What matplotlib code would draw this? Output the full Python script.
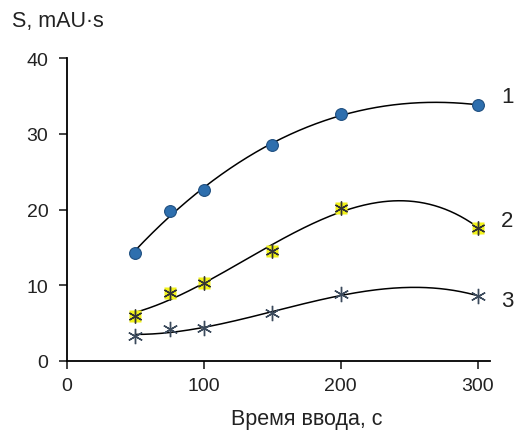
import numpy as np
import matplotlib
matplotlib.use("Agg")
import matplotlib.pyplot as plt

plt.rcParams['font.family'] = ['Liberation Sans', 'DejaVu Sans']

# injection time, s
t = [50, 75, 100, 150, 200, 300]

# peak areas S, mAU*s
s1 = [14.3, 19.8, 22.6, 28.5, 32.6, 33.8]
s2 = [5.9, 9.0, 10.3, 14.5, 20.2, 17.6]
s3 = [3.3, 4.2, 4.3, 6.3, 8.8, 8.6]

labels = ['1', '2', '3']
label_dy = [6, 5, -3]

fig = plt.figure(figsize=(5.26, 4.39), dpi=100)
ax = fig.add_axes([0.1274, 0.1754, 0.8042, 0.6902])

# smooth trend lines (cubic fit)
tt = np.linspace(t[0], t[-1], 200)
for s in [s1, s2, s3]:
    p = np.polyfit(t, s, 3)
    ax.plot(tt, np.polyval(p, tt), color='black', lw=1.1, zorder=2)

ax.plot(t, s1, 'o', ms=8.5, mfc='#2e6fae', mec='#1f4f80', mew=0.8, zorder=3)
ax.plot(t, s2, 's', ms=8.5, mfc='#f2f21a', mec='none', zorder=3)
ax.plot(t, s2, marker=(6, 2, 0), ls='none', ms=10, mec='#333333', mew=1.0, zorder=4)
ax.plot(t, s3, marker=(6, 2, 0), ls='none', ms=11, mec='#3b4a5c', mew=1.0, zorder=3)

for s, lab, dy in zip([s1, s2, s3], labels, label_dy):
    ax.annotate(lab, (t[-1], s[-1]), xytext=(17, dy), textcoords='offset points',
                fontsize=16, color='#222222', va='center', annotation_clip=False)

ax.set_xlim(0, 309)
ax.set_ylim(0, 40)
ax.set_xticks([0, 100, 200, 300])
ax.set_yticks([0, 10, 20, 30, 40])
ax.spines['top'].set_visible(False)
ax.spines['right'].set_visible(False)
ax.spines['left'].set_linewidth(1.3)
ax.spines['bottom'].set_linewidth(1.3)
ax.tick_params(direction='out', length=5.5, width=1.2, labelsize=14, colors='#222222')
ax.tick_params(axis='y', pad=8)
ax.tick_params(axis='x', pad=6)
ax.set_xlabel('Время ввода, с', fontsize=15.5, color='#222222', labelpad=10, x=0.567)
fig.text(0.023, 0.95, 'S, mAU·s', fontsize=15.5, color='#222222', va='center')

fig.savefig('out.png', dpi=100)
